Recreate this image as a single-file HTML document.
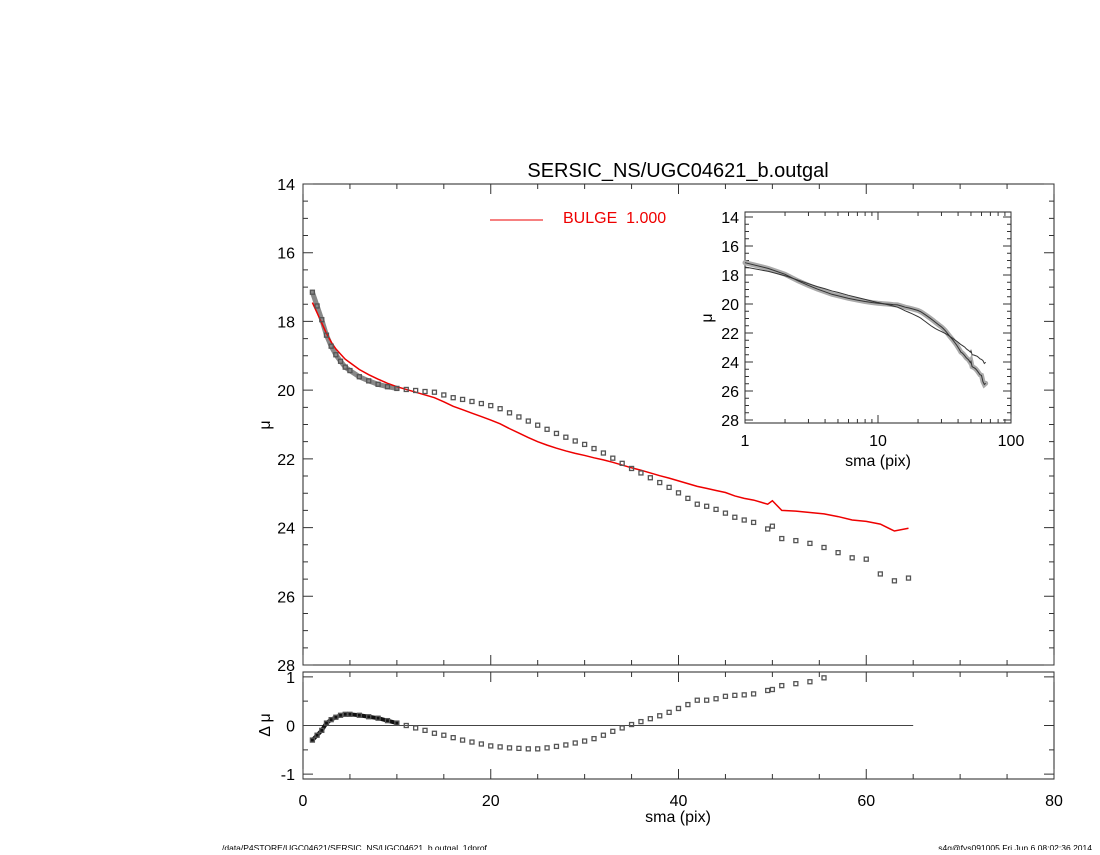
<!DOCTYPE html>
<html><head><meta charset="utf-8"><style>
body{margin:0;background:#fff;}
svg text{font-family:"Liberation Sans",sans-serif;}
</style></head><body>
<svg id="c" width="1100" height="850" xmlns="http://www.w3.org/2000/svg"></svg>
<script>
const sma=[1,1.5,2,2.5,3,3.5,4,4.5,5,6,7,8,9,10,11,12,13,14,15,16,17,18,19,20,21,22,23,24,25,26,27,28,29,30,31,32,33,34,35,36,37,38,39,40,41,42,43,44,45,46,47,48,49.5,50,51,52.5,54,55.5,57,58.5,60,61.5,63,64.5];
const model=[17.45,17.75,18.05,18.35,18.6,18.8,18.95,19.1,19.2,19.4,19.55,19.68,19.8,19.9,19.98,20.06,20.14,20.22,20.34,20.47,20.57,20.67,20.77,20.87,20.98,21.12,21.25,21.38,21.5,21.6,21.69,21.77,21.84,21.9,21.97,22.03,22.1,22.18,22.26,22.33,22.41,22.49,22.56,22.64,22.72,22.8,22.86,22.92,22.98,23.08,23.15,23.2,23.32,23.22,23.5,23.52,23.56,23.6,23.68,23.78,23.82,23.9,24.1,24.02];
const resid=[-0.3,-0.2,-0.1,0.05,0.12,0.17,0.21,0.23,0.23,0.21,0.18,0.15,0.1,0.05,0,-0.05,-0.1,-0.16,-0.2,-0.25,-0.3,-0.34,-0.38,-0.42,-0.44,-0.46,-0.47,-0.48,-0.48,-0.46,-0.43,-0.4,-0.36,-0.32,-0.27,-0.2,-0.12,-0.05,0.02,0.08,0.14,0.2,0.27,0.35,0.43,0.52,0.52,0.55,0.6,0.62,0.63,0.65,0.72,0.74,0.82,0.86,0.9,0.98,1.05,1.1,1.1,1.45,1.45,1.45];
const xTicks=[0,20,40,60,80];
const yTicks=[14,16,18,20,22,24,26,28];
const rTicks=[-1,0,1];
const lxTicks=[1,10,100];
const NS='http://www.w3.org/2000/svg';
const svg=document.getElementById('c');
function el(t,a,p){const e=document.createElementNS(NS,t);for(const k in a)e.setAttribute(k,a[k]);(p||svg).appendChild(e);return e;}
function txt(s,a,name){const e=el('text',a);e.textContent=s;


return e;}
const L=303,R=1054,T=184,B=665;
const X=v=>L+(v/80)*(R-L);
const Y=v=>T+(v-14)/14*(B-T);
const RT=672,RB=779;
const YR=v=>(RT+RB)/2-v*(RB-RT)/2.2;
const IL=745,IR=1011,IT=212,IB=423;
const XI=v=>IL+Math.log10(v)/2*(IR-IL);
const YI=v=>IT+5+(v-14)/14*(IB-IT-8);
const data=sma.map((s,i)=>model[i]+resid[i]);
let f=el('rect',{x:L,y:T,width:R-L,height:B-T,fill:'none',stroke:'#222','stroke-width':1});


f=el('rect',{x:L,y:RT,width:R-L,height:RB-RT,fill:'none',stroke:'#222','stroke-width':1});


f=el('rect',{x:IL,y:IT,width:IR-IL,height:IB-IT,fill:'none',stroke:'#222','stroke-width':1});


let tk='';
for(let v=0;v<=80;v+=5){const x=X(v),len=v%20==0?10:5;
tk+=`M${x} ${B}v${-len}M${x} ${T}v${len}M${x} ${RB}v${-len}M${x} ${RT}v${len}`;}
for(let v=14;v<=28;v+=0.5){const y=Y(v),len=v%2==0?10:5;tk+=`M${L} ${y}h${len}M${R} ${y}h${-len}`;}
for(let v=-1;v<=1;v+=0.5){const y=YR(v),len=v%1==0?10:5;tk+=`M${L} ${y}h${len}M${R} ${y}h${-len}`;}
for(let d=1;d<100;d*=10)for(let m=1;m<=10;m++){const x=XI(d*m),len=(m==1||m==10)?8:4;tk+=`M${x} ${IB}v${-len}M${x} ${IT}v${len}`;}
for(let v=14;v<=28;v+=0.5){const y=YI(v),len=v%2==0?8:4;tk+=`M${IL} ${y}h${len}M${IR} ${y}h${-len}`;}
f=el('path',{d:tk,stroke:'#333','stroke-width':1,fill:'none'});


xTicks.forEach(v=>txt(String(v),{x:X(v),y:806,'font-size':16,'text-anchor':'middle'},'x-tick-label'));
yTicks.forEach(v=>txt(String(v),{x:L-8,y:Y(v)+6,'font-size':16,'text-anchor':'end'},'y-tick-label'));
rTicks.forEach(v=>txt(String(v),{x:L-8,y:YR(v)+6,'font-size':16,'text-anchor':'end'},'residual-tick-label'));
lxTicks.forEach(v=>txt(String(v),{x:XI(v),y:446,'font-size':16,'text-anchor':'middle'},'inset-x-tick-label'));
yTicks.forEach(v=>txt(String(v),{x:IL-6,y:YI(v)+6,'font-size':16,'text-anchor':'end'},'inset-y-tick-label'));
txt('SERSIC_NS/UGC04621_b.outgal',{x:678,y:177,'font-size':20,'text-anchor':'middle'},'chart-title');
txt('sma (pix)',{x:678,y:822,'font-size':16,'text-anchor':'middle'},'x-axis-title');
txt('sma (pix)',{x:878,y:466,'font-size':16,'text-anchor':'middle'},'inset-x-axis-title');
txt('μ',{x:0,y:0,'font-size':16,'text-anchor':'middle',transform:'translate(270,425) rotate(-90)'},'y-axis-title');
txt('Δ μ',{x:0,y:0,'font-size':16,'text-anchor':'middle',transform:'translate(270,725) rotate(-90)'},'residual-axis-title');
txt('μ',{x:0,y:0,'font-size':16,'text-anchor':'middle',transform:'translate(712,318) rotate(-90)'},'inset-y-axis-title');
txt('/data/P4STORE/UGC04621/SERSIC_NS/UGC04621_b.outgal_1dprof',{x:222,y:851,'font-size':8.5},'footer-path');
txt('s4g@fys091005  Fri Jun  6 08:02:36 2014',{x:1092,y:851,'font-size':8.5,'text-anchor':'end'},'footer-stamp');
f=el('line',{x1:490,y1:220,x2:543,y2:220,stroke:'#e00','stroke-width':1});


f=txt('BULGE  1.000',{x:563,y:223,'font-size':16,fill:'#e00'},'legend-label');
f.setAttribute('xml:space','preserve');f.style.whiteSpace='pre';
f=el('line',{x1:L,y1:YR(0),x2:X(65),y2:YR(0),stroke:'#444','stroke-width':1});


const inner=sma.map((s,i)=>i).filter(i=>sma[i]<=10);
f=el('polyline',{points:inner.map(i=>X(sma[i])+','+Y(data[i])).join(' '),fill:'none',stroke:'#888','stroke-width':5,'stroke-linecap':'round'});


f=el('polyline',{points:inner.map(i=>X(sma[i])+','+YR(resid[i])).join(' '),fill:'none',stroke:'#111','stroke-width':4,'stroke-linecap':'round'});


f=el('polyline',{points:sma.map((s,i)=>X(s)+','+Y(model[i])).join(' '),fill:'none',stroke:'#e00','stroke-width':1.5});


sma.forEach((s,i)=>{
 const r=el('rect',{x:X(s)-2,y:Y(data[i])-2,width:4,height:4,fill:'none',stroke:'#555','stroke-width':1.3});
 
 
 if(resid[i]<=1.02){
 const q=el('rect',{x:X(s)-2,y:YR(resid[i])-2,width:4,height:4,fill:'none',stroke:'#555','stroke-width':1.3});
 
 }
});
f=el('polyline',{points:sma.map((s,i)=>XI(s)+','+YI(data[i])).join(' '),fill:'none',stroke:'#aaa','stroke-width':5,'stroke-linecap':'round'});


f=el('polyline',{points:sma.map((s,i)=>XI(s)+','+YI(data[i])).join(' '),fill:'none',stroke:'#333','stroke-width':1});


f=el('polyline',{points:sma.map((s,i)=>XI(s)+','+YI(model[i])).join(' '),fill:'none',stroke:'#333','stroke-width':1});


</script>
</body></html>
